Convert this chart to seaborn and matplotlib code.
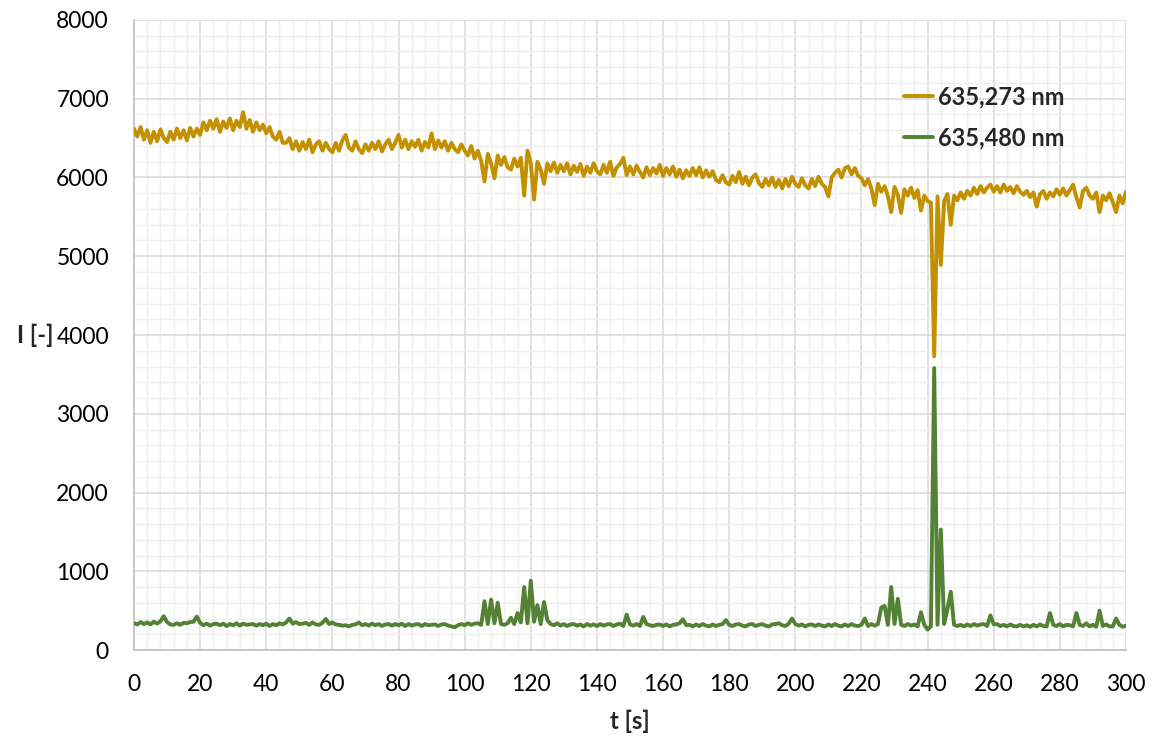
import numpy as np
import pandas as pd
import matplotlib
matplotlib.use("Agg")
import matplotlib.pyplot as plt
import seaborn as sns
from matplotlib.ticker import MultipleLocator

# time axis, one reading per second
t_s = list(range(0, 301))

# 635,273 nm intensity
i_273 = [
    6620, 6520, 6640, 6480, 6600, 6440, 6580, 6460, 6610, 6500,
    6450, 6580, 6480, 6620, 6500, 6600, 6470, 6630, 6520, 6620,
    6540, 6700, 6600, 6720, 6620, 6740, 6580, 6710, 6630, 6750,
    6600, 6720, 6640, 6830, 6620, 6730, 6580, 6700, 6600, 6670,
    6560, 6640, 6520, 6480, 6580, 6440, 6440, 6500, 6360, 6460,
    6340, 6450, 6360, 6480, 6320, 6420, 6460, 6340, 6440, 6360,
    6320, 6440, 6340, 6470, 6540, 6380, 6340, 6460, 6360, 6310,
    6420, 6340, 6440, 6360, 6460, 6330, 6420, 6480, 6360, 6440,
    6540, 6380, 6480, 6360, 6460, 6390, 6480, 6340, 6450, 6380,
    6560, 6360, 6470, 6380, 6460, 6340, 6440, 6360, 6320, 6420,
    6340, 6280, 6400, 6240, 6340, 6210, 5950, 6300, 6180, 5990,
    6280, 6160, 6260, 6130, 6100, 6240, 6140, 6250, 5770, 6340,
    6180, 5720, 6200, 6100, 5920, 6180, 6080, 6190, 6060, 6160,
    6080, 6180, 6040, 6150, 6070, 6170, 6020, 6140, 6060, 6180,
    6080, 6040, 6160, 6060, 6200, 6020, 6130, 6170, 6250, 6030,
    6140, 6040, 6150, 6070, 6000, 6130, 6030, 6120, 6050, 6160,
    6020, 6120, 6040, 6140, 6010, 6100, 5990, 6090, 6020, 6120,
    6030, 6130, 6000, 6090, 6010, 6080, 5970, 5940, 6030, 5940,
    5910, 6020, 5940, 6070, 5920, 6010, 5900, 6000, 6040, 5930,
    5880, 5980, 5900, 6000, 5880, 5970, 5860, 5980, 5890, 6010,
    5920, 5880, 5990, 5900, 5860, 5980, 5890, 6010, 5920, 5880,
    5760, 6000, 6060, 6100, 6000, 6120, 6140, 6040, 6120, 6020,
    5990, 5900, 5980, 5860, 5650, 5920, 5820, 5890, 5760, 5560,
    5880, 5780, 5550, 5850, 5770, 5870, 5740, 5840, 5580, 5770,
    5700, 5680, 3730, 5760, 4890, 5700, 5790, 5400, 5770, 5710,
    5810, 5730, 5830, 5770, 5870, 5790, 5890, 5810, 5870, 5910,
    5820, 5890, 5810, 5910, 5830, 5880, 5800, 5890, 5820, 5780,
    5830, 5750, 5810, 5630, 5790, 5830, 5730, 5810, 5760, 5850,
    5780, 5860, 5770, 5840, 5910, 5750, 5620, 5830, 5870, 5770,
    5730, 5810, 5560, 5770, 5710, 5800, 5690, 5560, 5770, 5670,
    5820,
]

# 635,480 nm intensity
i_480 = [
    340, 325, 355, 330, 350, 325, 360, 335, 365, 430,
    355, 325, 320, 340, 320, 345, 340, 355, 360, 425,
    345, 315, 335, 310, 330, 335, 315, 335, 305, 330,
    315, 340, 310, 335, 320, 325, 330, 310, 330, 315,
    335, 305, 330, 315, 340, 325, 350, 400, 335, 355,
    330, 335, 345, 320, 350, 325, 320, 345, 395, 330,
    350, 325, 320, 310, 315, 300, 320, 325, 350, 315,
    330, 310, 335, 315, 330, 305, 325, 330, 310, 330,
    315, 335, 305, 330, 310, 325, 330, 305, 330, 315,
    320, 325, 305, 325, 330, 310, 300, 290, 315, 330,
    315, 340, 320, 335, 340, 320, 620, 330, 640, 340,
    600, 330, 320, 340, 410, 330, 470, 350, 800, 340,
    880, 360, 570, 330, 610, 380, 330, 315, 340, 310,
    330, 305, 325, 330, 310, 325, 300, 330, 310, 325,
    305, 330, 310, 325, 330, 305, 325, 335, 305, 450,
    325, 310, 330, 305, 420, 330, 315, 305, 320, 325,
    305, 325, 300, 320, 325, 340, 390, 315, 320, 300,
    325, 305, 330, 310, 300, 325, 305, 320, 330, 380,
    320, 305, 325, 330, 310, 300, 325, 330, 305, 320,
    330, 310, 300, 325, 330, 340, 315, 305, 335, 400,
    330, 310, 325, 300, 320, 325, 305, 325, 310, 300,
    325, 305, 330, 310, 300, 325, 305, 330, 310, 305,
    320, 400, 305, 330, 310, 330, 540, 560, 320, 800,
    330, 650, 320, 305, 330, 310, 325, 300, 480, 320,
    260, 300, 3580, 320, 1530, 330, 520, 740, 320, 305,
    320, 300, 325, 305, 330, 310, 325, 330, 305, 440,
    325, 330, 305, 320, 300, 325, 305, 300, 320, 300,
    315, 295, 320, 300, 325, 305, 300, 470, 320, 305,
    330, 300, 320, 315, 300, 470, 320, 305, 340, 300,
    320, 295, 500, 305, 325, 300, 300, 400, 320, 295,
    310,
]

labels = ["635,273 nm", "635,480 nm"]
colors = ["#C39100", "#548235"]

df = pd.DataFrame({"t": t_s, labels[0]: i_273, labels[1]: i_480})
df_long = df.melt(id_vars="t", var_name="line", value_name="I")

sns.set_style("white")
plt.rcParams["font.family"] = ["Lato", "DejaVu Sans"]

fig = plt.figure(figsize=(11.57, 7.37), dpi=100)
ax = fig.add_axes([0.1158, 0.118, 0.8574, 0.8549])

sns.lineplot(data=df_long, x="t", y="I", hue="line", palette=colors,
             linewidth=2.8, ax=ax, zorder=3)

ax.set_xlim(0, 300)
ax.set_ylim(0, 8000)
ax.xaxis.set_major_locator(MultipleLocator(20))
ax.xaxis.set_minor_locator(MultipleLocator(4))
ax.yaxis.set_major_locator(MultipleLocator(1000))
ax.yaxis.set_minor_locator(MultipleLocator(200))
ax.grid(which="major", color="#D9D9D9", linewidth=1.1, zorder=0)
ax.grid(which="minor", color="#EFEFEF", linewidth=1.0, zorder=0)
ax.set_axisbelow(True)
ax.tick_params(which="both", length=0, labelsize=16.5, colors="#000000")
ax.tick_params(axis="y", pad=18)
ax.tick_params(axis="x", pad=17)

for side in ["top", "right"]:
    ax.spines[side].set_visible(False)
for side in ["left", "bottom"]:
    ax.spines[side].set_color("#BFBFBF")
    ax.spines[side].set_linewidth(1.2)

ax.set_xlabel("t [s]", fontsize=17, fontweight="bold")
ax.set_ylabel("I [-]", fontsize=17, fontweight="bold", rotation=0,
              ha="center", va="center")
ax.yaxis.set_label_coords(-0.1, 0.5)
ax.xaxis.set_label_coords(0.5, -0.095)

ax.legend(loc="upper left", bbox_to_anchor=(0.755, 0.93), frameon=False,
          handlelength=1.2, handletextpad=0.25, labelspacing=0.75,
          prop={"weight": "bold", "size": 17})

fig.savefig("out.png", dpi=100)
